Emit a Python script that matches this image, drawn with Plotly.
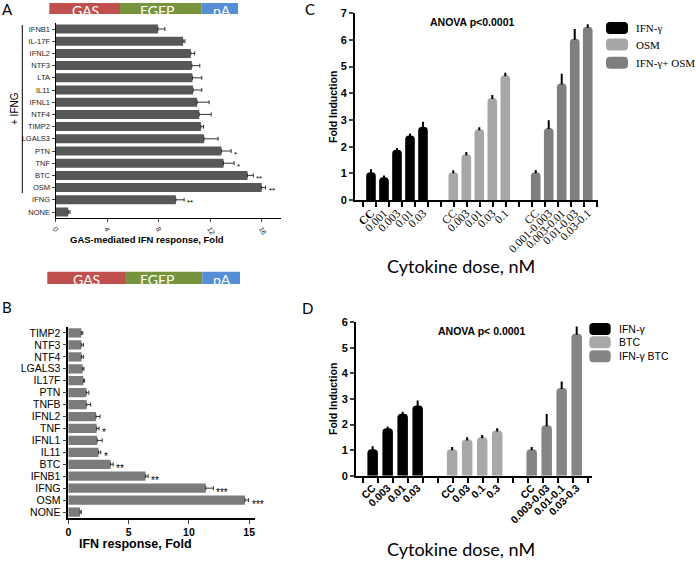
import plotly.graph_objects as go

W, H = 696, 562
def px(x): return x / W
def py(y): return 1 - y / H

# ---------------- Data ----------------
# Panel A
a_labels = ["IFNB1", "IL-17F", "IFNL2", "NTF3", "LTA", "IL11", "IFNL1", "NTF4", "TIMP2",
            "LGALS3", "PTN", "TNF", "BTC", "OSM", "IFNG", "NONE"]
a_values = [7.95, 9.9, 10.5, 10.58, 10.63, 10.68, 10.99, 11.15, 11.28, 11.53, 12.88, 13.04, 14.9, 16.0, 9.34, 0.99]
a_err = [0.54, 0.15, 0.3, 0.62, 0.72, 0.67, 0.93, 0.93, 0.21, 1.09, 0.75, 0.82, 0.45, 0.3, 0.64, 0.13]
a_stars = {"PTN": "*", "TNF": "*", "BTC": "**", "OSM": "**", "IFNG": "**"}
a_ticks = [0, 4, 8, 12, 16]

# Panel B
b_labels = ["TIMP2", "NTF3", "NTF4", "LGALS3", "IL17F", "PTN", "TNFB", "IFNL2", "TNF", "IFNL1",
            "IL11", "BTC", "IFNB1", "IFNG", "OSM", "NONE"]
b_values = [1.08, 1.08, 1.1, 1.19, 1.25, 1.5, 1.52, 2.3, 2.35, 2.4, 2.5, 3.5, 6.4, 11.4, 14.65, 0.97]
b_err = [0.12, 0.17, 0.15, 0.11, 0.1, 0.2, 0.33, 0.33, 0.19, 0.41, 0.19, 0.22, 0.22, 0.63, 0.3, 0.11]
b_stars = {"TNF": "*", "IL11": "*", "BTC": "**", "IFNB1": "**", "IFNG": "***", "OSM": "***"}
b_ticks = [0, 5, 10, 15]

# Panel C
c_series = ["IFN-γ", "OSM", "IFN-γ+ OSM"]
c_doses = [["CC", "0.001", "0.003", "0.01", "0.03"],
           ["CC", "0.003", "0.01", "0.03", "0.1"],
           ["CC", "0.001-0.003", "0.003-0.01", "0.01-0.03", "0.03-0.1"]]
c_values = [[1.04, 0.85, 1.88, 2.42, 2.75],
            [1.04, 1.72, 2.65, 3.82, 4.68],
            [1.04, 2.7, 4.37, 6.05, 6.5]]
c_err = [[0.08, 0.03, 0.03, 0.04, 0.15],
         [0.04, 0.04, 0.04, 0.08, 0.05],
         [0.05, 0.25, 0.33, 0.32, 0.05]]
c_colors = ["#000000", "#a7a7a9", "#7f7f81"]

# Panel D
d_series = ["IFN-γ", "BTC", "IFN-γ BTC"]
d_doses = [["CC", "0.003", "0.01", "0.03"],
           ["CC", "0.03", "0.1", "0.3"],
           ["CC", "0.003-0.03", "0.01-0.1", "0.03-0.3"]]
d_values = [[1.03, 1.86, 2.42, 2.75],
            [1.03, 1.42, 1.5, 1.77],
            [1.03, 1.97, 3.43, 5.55]]
d_err = [[0.08, 0.03, 0.04, 0.15],
         [0.05, 0.04, 0.05, 0.05],
         [0.05, 0.4, 0.22, 0.25]]
d_colors = ["#000000", "#a8a8a8", "#858585"]

SANS = "Liberation Sans"
SERIF = "Liberation Serif"
CAL = "Lato"

fig = go.Figure()

# ---------------- Panel A ----------------
fig.add_trace(go.Bar(orientation="h", x=a_values, y=a_labels, width=0.74,
                     marker=dict(color="#575757"),
                     error_x=dict(type="data", symmetric=False, array=a_err,
                                  arrayminus=[0] * len(a_err), color="#333", thickness=1, width=2),
                     xaxis="x", yaxis="y", showlegend=False))
# ---------------- Panel B ----------------
fig.add_trace(go.Bar(orientation="h", x=b_values, y=b_labels, width=0.78,
                     marker=dict(color="#7b7b7b"),
                     error_x=dict(type="data", symmetric=False, array=b_err,
                                  arrayminus=[0] * len(b_err), color="#333", thickness=1, width=2),
                     xaxis="x2", yaxis="y2", showlegend=False))

# ---------------- Panel C ----------------
c_offsets = [0, 6.33, 12.67]
c_pos_all, c_txt_all = [], []
for i, s in enumerate(c_series):
    pos = [c_offsets[i] + k for k in range(len(c_values[i]))]
    c_pos_all += pos
    c_txt_all += [("<b>" + t + "</b>") if (i == 0 and t == "CC") else t for t in c_doses[i]]
    fig.add_trace(go.Bar(x=pos, y=c_values[i], width=0.74, name=s,
                         marker=dict(color=c_colors[i], cornerradius=4),
                         error_y=dict(type="data", symmetric=False, array=c_err[i],
                                      arrayminus=[0] * len(c_err[i]), color="black", thickness=2, width=1),
                         xaxis="x3", yaxis="y3", showlegend=False))

# ---------------- Panel D ----------------
d_offsets = [0, 5.3, 10.6]
d_pos_all, d_txt_all = [], []
for i, s in enumerate(d_series):
    pos = [d_offsets[i] + k for k in range(len(d_values[i]))]
    d_pos_all += pos
    d_txt_all += d_doses[i]
    fig.add_trace(go.Bar(x=pos, y=d_values[i], width=0.7, name=s,
                         marker=dict(color=d_colors[i], cornerradius=4),
                         error_y=dict(type="data", symmetric=False, array=d_err[i],
                                      arrayminus=[0] * len(d_err[i]), color="black", thickness=2, width=1),
                         xaxis="x4", yaxis="y4", showlegend=False))

ax_common = dict(showgrid=False, zeroline=False, showline=True, linecolor="black")

fig.update_layout(
    template="none",
    width=W, height=H, margin=dict(l=0, r=0, t=0, b=0),
    paper_bgcolor="white", plot_bgcolor="rgba(0,0,0,0)", barmode="overlay",
    font=dict(family=SANS, color="black"),
    xaxis=dict(**ax_common, domain=[px(55.5), px(281)], range=[0, 17.5], tickvals=a_ticks,
               tickangle=60, ticks="outside", ticklen=3, linewidth=1,
               tickfont=dict(size=7, family=SANS, color="#222"), anchor="y"),
    yaxis=dict(**ax_common, domain=[py(218.1), py(22.9)], autorange="reversed", type="category",
               categoryorder="array", categoryarray=a_labels, tickmode="array", tickvals=a_labels,
               ticks="outside", ticklen=3, linewidth=1,
               tickfont=dict(size=7.5, family=SANS, color="#222"), anchor="x"),
    xaxis2=dict(**ax_common, domain=[px(68.3), px(255.2)], range=[0, 15.5], tickvals=b_ticks,
                ticks="outside", ticklen=4, linewidth=1.5,
                tickfont=dict(size=10.5, family=SANS, weight="bold"), anchor="y2"),
    yaxis2=dict(**ax_common, domain=[py(518), py(327)], autorange="reversed", type="category",
                categoryorder="array", categoryarray=b_labels, tickmode="array", tickvals=b_labels,
                ticks="outside", ticklen=4, linewidth=1.5,
                tickfont=dict(size=10.5, family=SANS), anchor="x2"),
    xaxis3=dict(**ax_common, domain=[px(355), px(598)], range=[-1.23, 17.46], linewidth=2,
                tickmode="array", tickvals=c_pos_all, ticktext=c_txt_all, tickangle=-45, ticks="",
                tickfont=dict(size=11.5, family=SERIF),
                minor=dict(ticks="outside", tickmode="linear", tick0=-0.64, dtick=1, ticklen=5,
                           tickwidth=1.5, tickcolor="black"),
                anchor="y3"),
    yaxis3=dict(**ax_common, domain=[py(200), py(13.3)], range=[0, 7], dtick=1, linewidth=2,
                ticks="outside", ticklen=4, tickwidth=1.5,
                tickfont=dict(size=11, family=SANS, weight="bold"), anchor="x3"),
    xaxis4=dict(**ax_common, domain=[px(356), px(592)], range=[-1.11, 14.62], linewidth=2,
                tickmode="array", tickvals=d_pos_all, ticktext=d_txt_all,
                tickangle=-45, ticks="", tickfont=dict(size=10.5, family=SANS, weight="bold"),
                minor=dict(ticks="outside", tickmode="linear", tick0=-0.67, dtick=1, ticklen=5,
                           tickwidth=1.5, tickcolor="black"),
                anchor="y4"),
    yaxis4=dict(**ax_common, domain=[py(475.7), py(322.3)], range=[0, 6], dtick=1, linewidth=2,
                ticks="outside", ticklen=4, tickwidth=1.5,
                tickfont=dict(size=11, family=SANS, weight="bold"), anchor="x4"),
)

shapes = []
annots = []

def ptext(x, y, text, size, family=SANS, color="black", xanchor="center", yanchor="middle", angle=0):
    annots.append(dict(x=px(x), y=py(y), xref="paper", yref="paper", text=text, showarrow=False,
                       font=dict(size=size, family=family, color=color), xanchor=xanchor,
                       yanchor=yanchor, textangle=angle))

# construct bars
def construct(x0, x1, x2, x3, y0, y1, centers):
    for (a, b), col in zip([(x0, x1), (x1, x2), (x2, x3)], ["#c0504d", "#77933c", "#558ed5"]):
        shapes.append(dict(type="rect", xref="paper", yref="paper", x0=px(a), x1=px(b),
                           y0=py(y1), y1=py(y0), fillcolor=col, line=dict(width=0), layer="below"))
    for c, t in zip(centers, ["GAS", "EGFP", "pA"]):
        ptext(c, (y0 + y1) / 2 + 1.5, t, 14, family=CAL, color="white")

construct(49.3, 120, 201.3, 238, 3, 14, [85, 157, 222])
construct(47.3, 125, 202.3, 240, 271.7, 284, [86, 157, 222])

# panel letters
ptext(7, 9, "A", 15, family=CAL)
ptext(7, 307, "B", 15, family=CAL)
ptext(310, 9, "C", 15, family=CAL)
ptext(307, 308, "D", 15, family=CAL)

# + IFNG bracket
shapes.append(dict(type="line", xref="paper", yref="paper", x0=px(22.3), x1=px(22.3),
                   y0=py(25), y1=py(193), line=dict(color="black", width=1)))
ptext(15, 109, "+ IFNG", 10, angle=-90)

# axis titles
ptext(147, 240, "<b>GAS-mediated IFN response, Fold</b>", 9.5)
ptext(135, 544, "<b>IFN response, Fold</b>", 12.5)
ptext(461, 266, "Cytokine dose, nM", 18, family=CAL)
ptext(461, 549, "Cytokine dose, nM", 18, family=CAL)
ptext(333, 107, "<b>Fold Induction</b>", 10.5, angle=-90)
ptext(333, 399, "<b>Fold Induction</b>", 10.5, angle=-90)
ptext(472, 22, "<b>ANOVA p<0.0001</b>", 10.5)
ptext(481, 331, "<b>ANOVA p< 0.0001</b>", 10.5)

# stars
for lab, st in a_stars.items():
    i = a_labels.index(lab)
    annots.append(dict(x=a_values[i] + a_err[i], y=lab, xref="x", yref="y", text=st, showarrow=False,
                       xanchor="left", xshift=1, yshift=-3, font=dict(size=8, family=SANS, color="black")))
for lab, st in b_stars.items():
    i = b_labels.index(lab)
    annots.append(dict(x=b_values[i] + b_err[i], y=lab, xref="x2", yref="y2", text=st, showarrow=False,
                       xanchor="left", xshift=1, yshift=-4, font=dict(size=10, family=SANS, color="black")))

# legends
def rounded(x0, x1, y0, y1, r, col):
    X0, X1, Y0, Y1 = px(x0), px(x1), py(y1), py(y0)
    rx, ry = r / W, r / H
    path = (f"M {X0+rx},{Y0} L {X1-rx},{Y0} Q {X1},{Y0} {X1},{Y0+ry} L {X1},{Y1-ry} "
            f"Q {X1},{Y1} {X1-rx},{Y1} L {X0+rx},{Y1} Q {X0},{Y1} {X0},{Y1-ry} L {X0},{Y0+ry} "
            f"Q {X0},{Y0} {X0+rx},{Y0} Z")
    shapes.append(dict(type="path", xref="paper", yref="paper", path=path, fillcolor=col,
                       line=dict(width=0)))

for i, (s, yc) in enumerate(zip(c_series, [28, 44.5, 62.7])):
    rounded(606, 628, yc - 6, yc + 6, 4, c_colors[i])
    ptext(634, yc, s, 11, family=SERIF, xanchor="left")
for i, (s, yc) in enumerate(zip(d_series, [329, 342.3, 356.3])):
    rounded(589.3, 610.7, yc - 6, yc + 6, 4, d_colors[i])
    ptext(617, yc, s, 10.5, family=SANS, xanchor="left")

fig.update_layout(shapes=shapes, annotations=annots)
fig.write_html("out.html", config={"displayModeBar": False},
               post_script="document.body.style.margin='0px';")
